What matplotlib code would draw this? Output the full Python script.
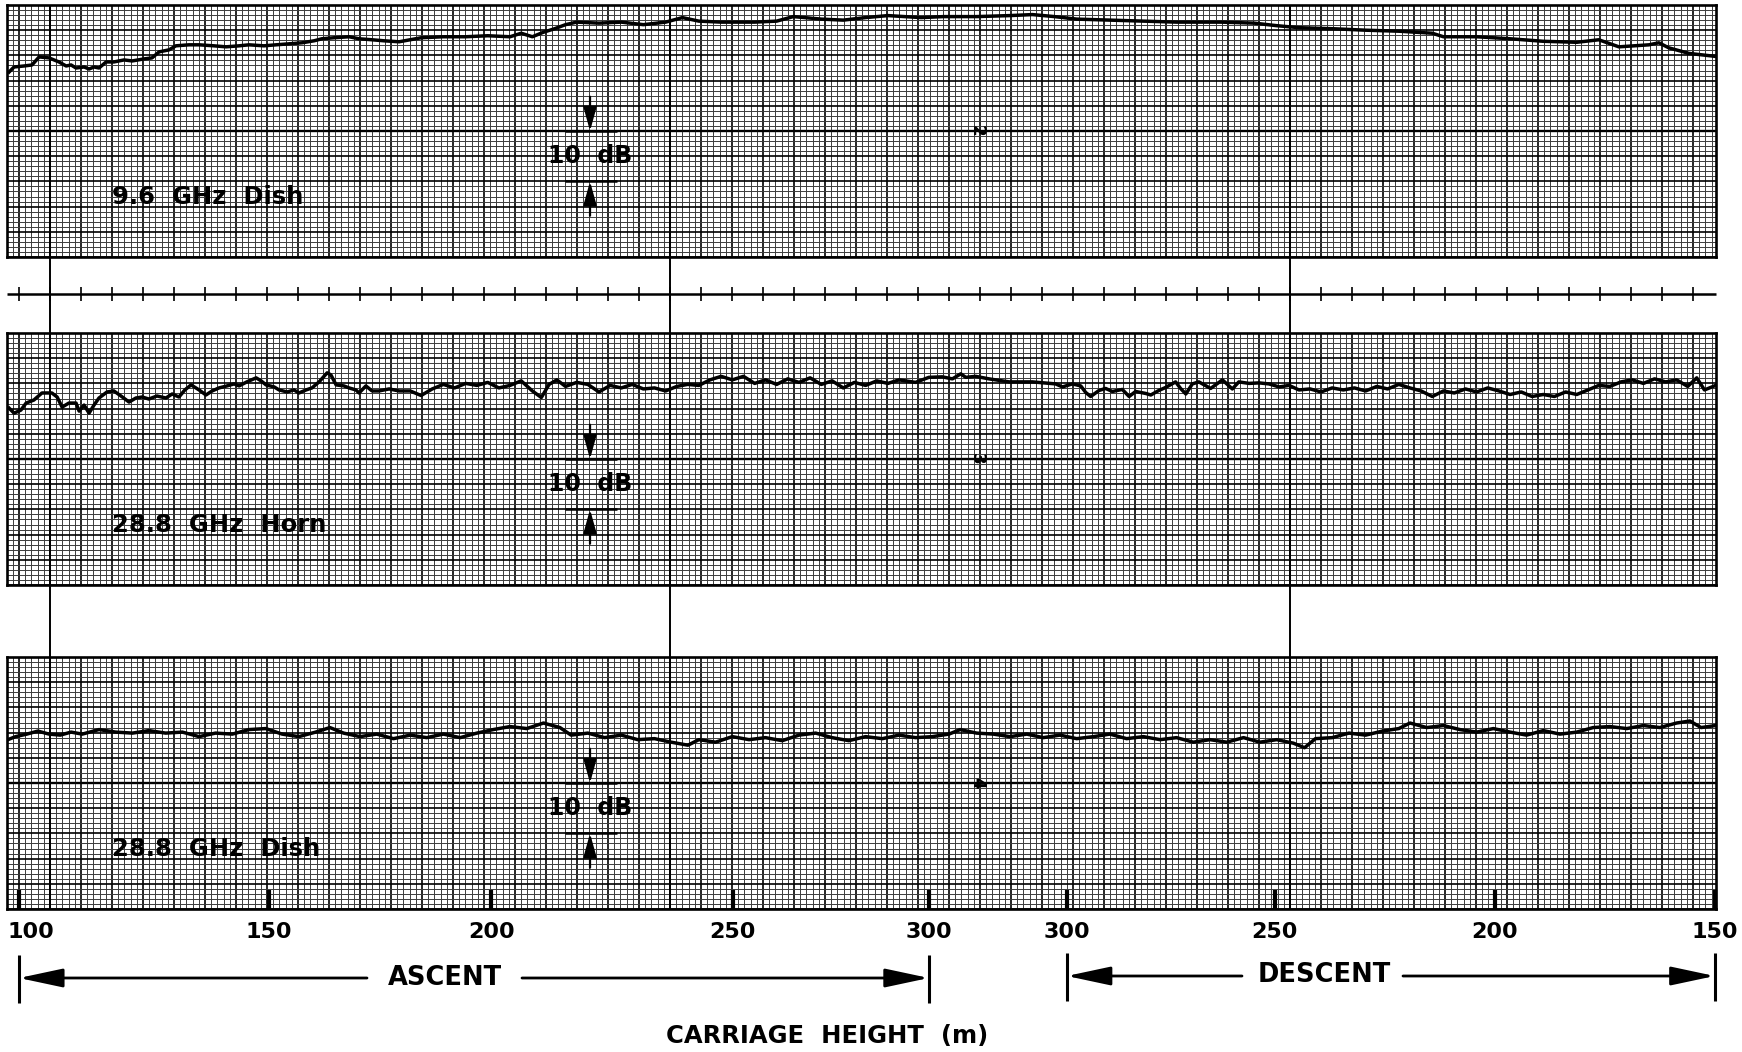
import numpy as np
import matplotlib
matplotlib.use("Agg")
import matplotlib.pyplot as plt
from matplotlib.ticker import MultipleLocator

# ---------------- data (chart position in paper divisions, level in dB) -------------
dish96_pos = [-0.32,-0.16,0.16,0.42,0.65,0.97,1.29,1.52,1.68,1.84,2.10,2.26,2.42,2.58,2.81,3.06,3.39,3.65,4.03,4.29,
              4.52,4.84,5.06,5.48,5.81,6.29,6.68,7.10,7.42,7.90,8.29,8.71,9.13,9.52,9.77,10.16,10.65,10.97,11.39,11.77,
              12.26,12.97,13.69,14.41,15.12,15.84,16.20,16.56,16.92,17.28,17.63,17.99,18.71,19.43,20.14,20.86,21.40,21.93,22.65,23.73,
              24.44,24.98,25.88,26.59,27.31,28.03,29.10,29.82,30.89,31.97,32.69,33.40,34.12,35.19,36.27,37.34,38.78,39.85,40.57,41.29,
              42.36,43.44,44.51,45.59,45.95,47.02,48.10,49.17,50.25,50.96,51.61,52.58,52.90,53.22,53.87,54.73]
dish96_db = [36.7,37.7,37.9,38.1,39.7,39.5,38.7,37.9,38.1,37.5,37.7,37.3,37.7,37.5,38.7,38.7,39.1,38.9,39.3,39.5,
             40.7,41.1,41.9,42.1,42.1,41.9,41.7,41.9,42.1,41.9,42.1,42.3,42.5,42.9,43.3,43.5,43.7,43.3,43.1,42.9,
             42.7,43.5,43.7,43.7,43.9,43.7,44.4,43.7,44.6,45.3,46.1,46.6,46.4,46.6,46.1,46.6,47.5,46.8,46.6,46.6,
             46.8,47.7,47.2,47.0,47.5,47.9,47.5,47.7,47.7,47.9,48.1,47.7,47.2,47.0,46.8,46.6,46.6,46.4,45.9,45.5,
             45.3,45.0,44.8,44.4,43.7,43.7,43.3,42.8,42.6,43.1,41.7,42.1,42.5,41.5,40.4,39.8]

horn288_pos = [-0.32,-0.16,0.06,0.23,0.48,0.74,1.06,1.23,1.39,1.61,1.84,1.94,2.10,2.26,2.42,2.58,2.84,3.06,3.29,3.55,
               3.77,3.97,4.19,4.45,4.74,4.94,5.16,5.35,5.55,5.81,6.03,6.23,6.45,6.71,6.94,7.10,7.35,7.65,7.81,7.97,
               8.23,8.39,8.65,8.87,9.03,9.26,9.45,9.68,9.94,10.06,10.23,10.48,10.65,10.87,10.97,11.19,11.39,11.61,11.94,12.26,
               12.62,12.97,13.33,13.69,14.05,14.41,14.77,15.12,15.48,15.84,16.20,16.56,16.85,17.10,17.35,17.63,17.99,18.35,18.71,19.07,
               19.43,19.78,20.14,20.50,20.86,21.22,21.57,21.93,22.29,22.65,23.01,23.37,23.73,24.08,24.44,24.80,25.16,25.52,25.88,26.23,
               26.59,26.95,27.31,27.67,28.03,
               28.39,28.92,29.35,29.78,30.11,30.38,30.54,30.86,31.29,31.94,32.69,33.44,33.66,33.98,34.25,34.41,34.57,34.84,35.05,35.27,
               35.59,35.81,36.02,36.35,36.51,36.77,36.99,37.31,37.47,37.64,37.85,38.06,38.44,38.82,39.14,39.35,39.68,40.00,40.32,40.65,
               40.97,41.29,
               41.65,42.00,42.36,42.72,43.08,43.44,43.80,44.15,44.51,44.87,45.23,45.59,45.95,46.30,46.66,47.02,47.38,47.74,48.10,48.46,
               48.81,49.17,49.53,49.89,50.25,50.61,50.96,51.32,51.68,52.04,52.40,52.76,53.12,53.47,53.83,54.12,54.37,54.73]
horn288_db = [35.1,34.1,34.7,36.1,36.7,38.1,38.1,37.3,35.3,36.1,36.1,34.5,35.7,34.1,35.7,37.1,38.3,38.5,37.5,36.3,
              37.1,37.3,36.9,37.5,37.1,37.9,37.3,38.7,39.7,38.7,37.7,38.5,39.1,39.5,39.9,39.5,40.3,41.1,40.5,39.7,
              39.3,38.7,38.3,38.7,38.1,38.7,39.1,40.3,42.1,41.7,39.7,39.5,39.1,38.7,38.1,39.5,38.5,38.5,38.9,38.5,
              38.5,37.6,38.9,39.8,39.1,40.0,39.6,40.2,39.1,39.6,40.5,38.5,37.2,39.8,40.7,39.4,40.2,39.8,38.3,39.6,
              39.1,39.8,38.9,39.1,38.5,39.4,39.8,39.6,40.7,41.4,40.7,41.4,40.0,40.7,39.8,40.9,40.2,41.1,39.8,40.5,
              39.1,40.2,39.6,40.5,40.0,
              40.7,40.2,41.2,41.3,40.9,41.9,41.2,41.4,40.9,40.3,40.3,39.9,39.3,39.9,39.5,38.2,37.4,38.6,39.0,38.4,
              38.8,37.4,38.4,38.0,37.7,38.6,39.2,40.3,39.0,37.9,39.9,40.3,39.0,40.7,38.9,40.3,40.0,40.1,39.9,39.3,
              39.6,38.7,
              38.9,38.3,39.1,38.7,39.1,38.5,39.4,38.9,39.8,39.1,38.5,37.4,38.5,38.1,38.9,38.3,39.1,38.5,37.8,38.3,
              37.4,37.8,37.4,38.3,37.8,38.7,39.6,39.4,40.3,40.7,40.0,40.9,40.3,40.7,39.4,41.1,38.7,39.6]

dish288_pos = [-0.36,-0.11,0.25,0.61,0.97,1.33,1.68,2.04,2.58,3.12,3.66,4.19,4.73,5.27,5.81,6.34,6.88,7.42,7.96,8.49,
               9.03,9.57,10.03,10.47,11.00,11.54,12.08,12.62,13.15,13.69,14.23,14.77,15.30,15.84,16.38,16.92,17.45,17.81,18.35,18.89,
               19.43,19.96,20.50,21.04,21.58,21.93,22.47,23.01,23.55,24.08,24.62,25.16,25.70,26.23,26.77,27.31,27.85,28.39,28.92,29.46,
               30.00,30.36,30.89,31.43,31.97,32.51,33.04,33.58,34.12,34.66,35.19,35.73,36.27,36.81,37.34,37.88,38.42,38.96,39.50,40.03,
               40.57,41.11,41.47,41.82,42.36,42.90,43.44,43.98,44.51,44.87,45.41,45.95,46.48,47.02,47.56,48.10,48.63,49.17,49.71,50.25,
               50.78,51.32,51.86,52.40,52.93,53.47,53.90,54.26,54.73]
dish288_db = [33.6,34.2,34.7,35.3,34.7,34.5,35.1,34.7,35.6,35.1,34.9,35.4,34.9,35.1,34.2,34.9,34.7,35.6,35.8,34.7,
              34.2,35.1,36.0,34.9,34.2,34.7,33.8,34.5,34.0,34.7,34.0,34.9,35.6,36.2,35.8,36.9,36.0,34.5,34.9,34.0,
              34.5,33.6,33.8,33.1,32.5,33.6,33.1,34.2,33.6,34.0,33.4,34.5,34.9,34.0,33.4,34.2,33.8,34.5,34.0,34.2,
              34.7,35.6,34.9,34.7,34.2,34.7,34.0,34.5,33.8,34.2,34.7,33.8,34.2,33.6,34.0,33.1,33.6,33.1,34.0,33.1,
              33.6,32.9,32.0,33.8,34.0,34.9,34.5,35.3,35.8,36.9,36.0,36.4,35.6,35.1,35.8,35.1,34.5,35.4,34.7,35.1,
              36.0,36.2,35.8,36.4,36.0,36.9,37.3,36.0,36.4]

panel_labels = ["9.6  GHz  Dish", "28.8  GHz  Horn", "28.8  GHz  Dish"]
pen_ids = ["2", "3", "4"]

ascent_heights = [100, 150, 200, 250, 300]
ascent_tick_pos = [0.0, 8.05, 15.23, 23.03, 29.35]
descent_heights = [300, 250, 200, 150]
descent_tick_pos = [33.8, 40.5, 47.6, 54.7]
event_pos = [1.0, 21.0, 41.0]

# ---------------- layout ----------------
W, H = 1742, 1052
def u(px):           # paper-pixel column -> chart divisions
    return (px - 19) / 31.0

fig = plt.figure(figsize=(W / 100, H / 100), dpi=100)
fig.patch.set_facecolor("white")

panel_rows = [(5, 257), (333, 585), (657, 909)]
traces = [(dish96_pos, dish96_db), (horn288_pos, horn288_db), (dish288_pos, dish288_db)]
bold = dict(fontweight="bold", family="DejaVu Sans", color="black")

for (top, bot), (xs, ys), lab, pid in zip(panel_rows, traces, panel_labels, pen_ids):
    ax = fig.add_axes([7 / W, 1 - bot / H, 1709 / W, (bot - top) / H])
    ax.set_xlim(u(7), u(1716))
    ax.set_ylim(0, 50)
    ax.xaxis.set_major_locator(MultipleLocator(1))
    ax.xaxis.set_minor_locator(MultipleLocator(0.2))
    ax.yaxis.set_major_locator(MultipleLocator(5))
    ax.yaxis.set_minor_locator(MultipleLocator(1))
    ax.grid(which="minor", color="#3c3c3c", lw=0.7)
    ax.grid(which="major", color="black", lw=1.2)
    ax.axhline(25, color="black", lw=1.7, zorder=1)
    ax.tick_params(which="both", length=0, labelbottom=False, labelleft=False)
    for s in ax.spines.values():
        s.set_linewidth(1.9)
    ax.plot(xs, ys, color="black", lw=2.5, solid_joinstyle="round", zorder=5)
    ax.text(3.0, 12.0, lab, ha="left", va="center", fontsize=17.5, zorder=6, **bold)
    # 10 dB calibration marker
    mx = 18.42
    ax.hlines([15, 25], 17.6, 19.3, color="black", lw=1.8, zorder=6)
    ax.text(mx, 20.0, "10  dB", ha="center", va="center", fontsize=17, zorder=6, **bold)
    ap = dict(arrowstyle="-|>,head_length=0.9,head_width=0.25", lw=1.6, color="black",
              mutation_scale=16, shrinkA=0, shrinkB=0)
    ax.annotate("", xy=(mx, 25), xytext=(mx, 31.8), arrowprops=ap, zorder=6)
    ax.annotate("", xy=(mx, 15), xytext=(mx, 8.2), arrowprops=ap, zorder=6)
    ax.text(30.9, 25.0, pid, ha="center", va="center", fontsize=12, rotation=-90,
            zorder=6, **bold)

# ---------------- overlay (pixel rows, chart-division columns) ----------------
ov = fig.add_axes([0, 0, 1, 1], zorder=10)
ov.set_xlim(u(0), u(W))
ov.set_ylim(H, 0)
ov.axis("off")
ov.patch.set_alpha(0)

# time marker line
ov.hlines(294, u(7), u(1716), color="black", lw=1.8)
ov.vlines(np.arange(0, 55), 287, 301, color="black", lw=1.2)
# event marks
ov.vlines(event_pos, 5, 909, color="black", lw=1.4)

# carriage-height ticks and labels
for pos, h in list(zip(ascent_tick_pos, ascent_heights)) + list(zip(descent_tick_pos, descent_heights)):
    ov.vlines(pos, 890, 909, color="black", lw=3.0)
    lx = min(max(pos, u(31)), u(1716))
    ov.text(lx, 932, str(h), ha="center", va="center", fontsize=16, **bold)

ya = 978
ap2 = dict(arrowstyle="-|>,head_length=1.5,head_width=0.32", lw=2.0, color="black",
           mutation_scale=18, shrinkA=0, shrinkB=0)
# ASCENT
a0, a1 = ascent_tick_pos[0], ascent_tick_pos[-1]
ov.vlines([a0, a1], 955, 1003, color="black", lw=2.2)
ov.annotate("", xy=(a0, ya), xytext=(u(367), ya), arrowprops=ap2)
ov.annotate("", xy=(a1, ya), xytext=(u(522), ya), arrowprops=ap2)
ov.text((u(367) + u(522)) / 2, ya, "ASCENT", ha="center", va="center", fontsize=18.5, **bold)
# DESCENT
d0, d1 = descent_tick_pos[0], descent_tick_pos[-1]
ov.vlines([d0, d1], 953, 1001, color="black", lw=2.2)
ov.annotate("", xy=(d0, ya - 2), xytext=(u(1242), ya - 2), arrowprops=ap2)
ov.annotate("", xy=(d1, ya - 2), xytext=(u(1403), ya - 2), arrowprops=ap2)
ov.text((u(1242) + u(1403)) / 2 + 0.05, ya - 3, "DESCENT", ha="center", va="center",
        fontsize=18.5, **bold)

ov.text(u(827), 1036, "CARRIAGE  HEIGHT  (m)", ha="center", va="center", fontsize=17.5, **bold)

fig.savefig("out.png", dpi=100, facecolor="white")
